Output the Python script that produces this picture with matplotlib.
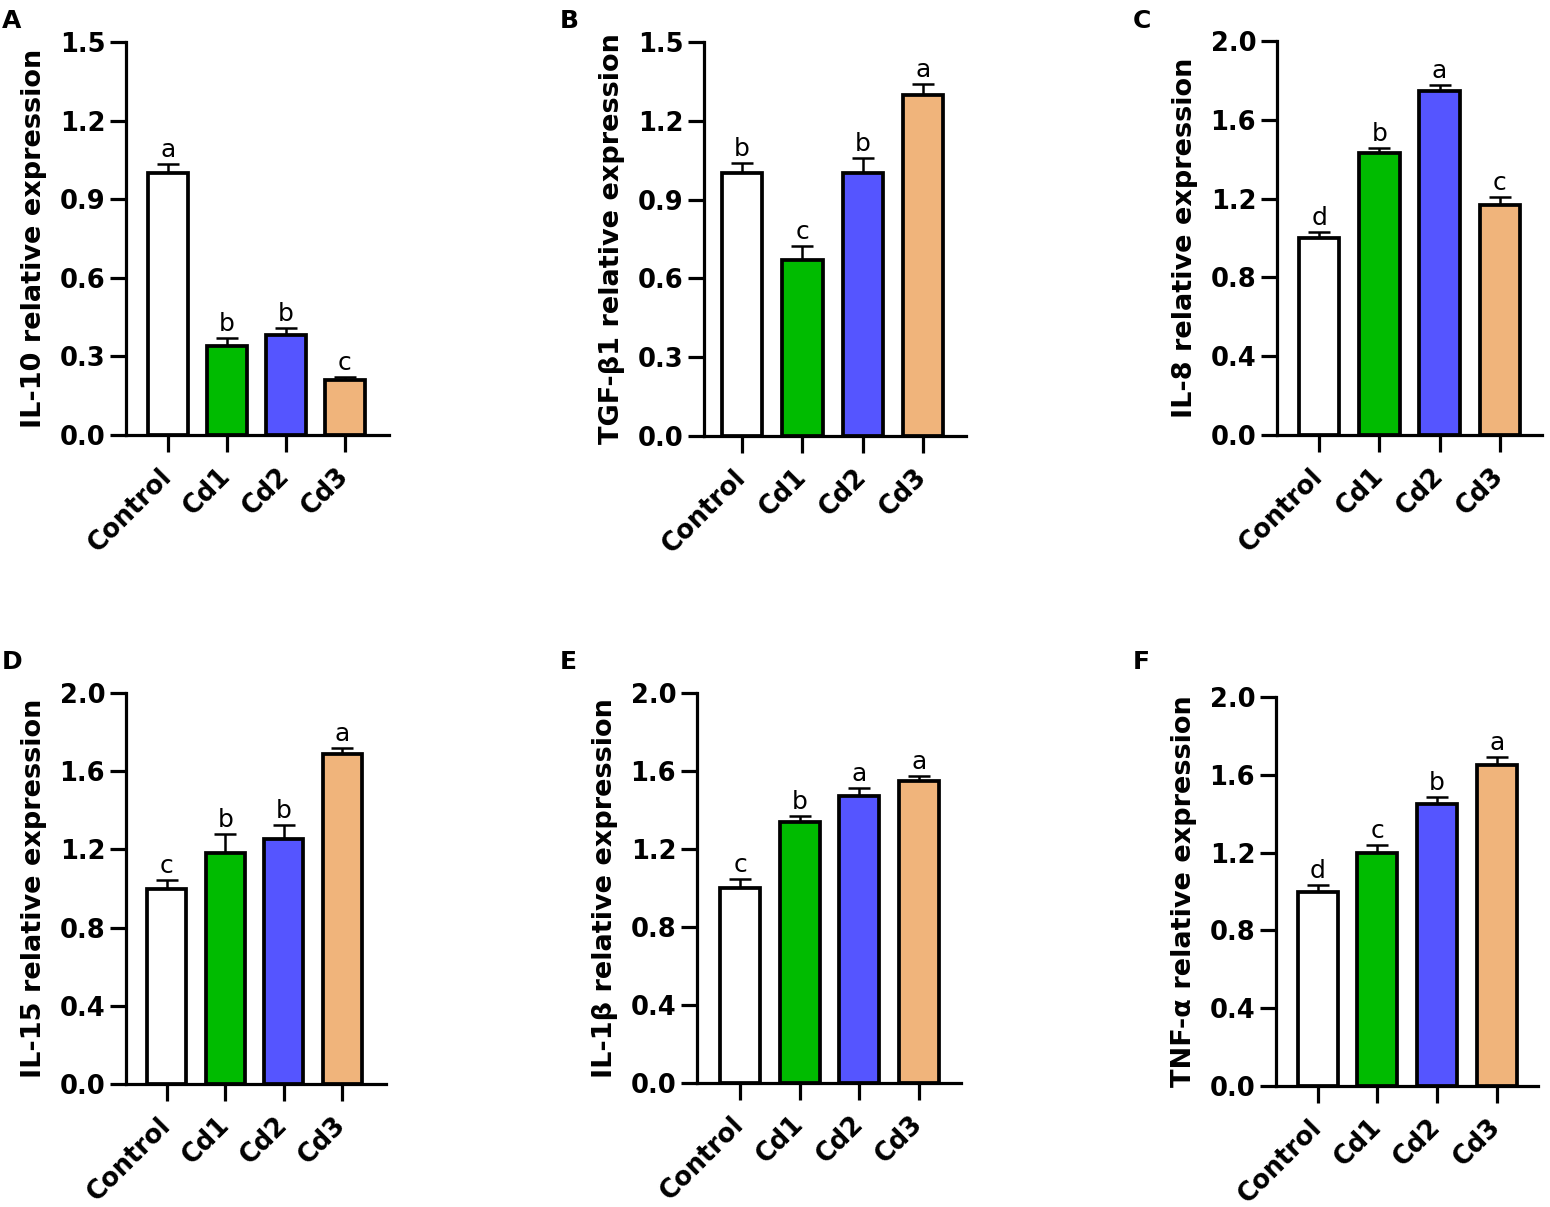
import matplotlib
matplotlib.use("Agg")
import matplotlib.pyplot as plt
import numpy as np

# ---------------- data ----------------
groups = ["Control", "Cd1", "Cd2", "Cd3"]
bar_colors = ["#FFFFFF", "#00BB00", "#5555FF", "#F0B47B"]

il10_mean = [1.00, 0.34, 0.38, 0.21]
il10_err = [0.035, 0.03, 0.03, 0.012]
il10_sig = ["a", "b", "b", "c"]

tgfb1_mean = [1.00, 0.67, 1.00, 1.30]
tgfb1_err = [0.04, 0.055, 0.06, 0.04]
tgfb1_sig = ["b", "c", "b", "a"]

il8_mean = [1.00, 1.43, 1.745, 1.17]
il8_err = [0.03, 0.025, 0.03, 0.04]
il8_sig = ["d", "b", "a", "c"]

il15_mean = [1.00, 1.18, 1.255, 1.69]
il15_err = [0.045, 0.10, 0.07, 0.03]
il15_sig = ["c", "b", "b", "a"]

il1b_mean = [1.00, 1.34, 1.47, 1.55]
il1b_err = [0.045, 0.027, 0.045, 0.025]
il1b_sig = ["c", "b", "a", "a"]

tnfa_mean = [1.00, 1.20, 1.45, 1.65]
tnfa_err = [0.035, 0.04, 0.035, 0.04]
tnfa_sig = ["d", "c", "b", "a"]

ylabels = ["IL-10 relative expression", "TGF-β1 relative expression",
           "IL-8 relative expression", "IL-15 relative expression",
           "IL-1β relative expression", "TNF-α relative expression"]
panel_letters = ["A", "B", "C", "D", "E", "F"]
yticks_15 = [0.0, 0.3, 0.6, 0.9, 1.2, 1.5]
yticks_20 = [0.0, 0.4, 0.8, 1.2, 1.6, 2.0]

panels = [
    (il10_mean, il10_err, il10_sig, yticks_15),
    (tgfb1_mean, tgfb1_err, tgfb1_sig, yticks_15),
    (il8_mean, il8_err, il8_sig, yticks_20),
    (il15_mean, il15_err, il15_sig, yticks_20),
    (il1b_mean, il1b_err, il1b_sig, yticks_20),
    (tnfa_mean, tnfa_err, tnfa_sig, yticks_20),
]

# ---------------- layout (pixels: left, right, top, bottom) ----------------
W, H = 1550, 1207
boxes = [
    (126, 389, 42, 435),
    (704, 966, 42, 436),
    (1277, 1542, 41, 435),
    (126, 386, 693, 1084),
    (697, 961, 693, 1083),
    (1276, 1538, 697, 1086),
]
xlims = [(-0.71, 3.75), (-0.63, 3.71), (-0.70, 3.70),
         (-0.70, 3.75), (-0.72, 3.70), (-0.70, 3.69)]
letter_pos = [(2, 9), (560, 9), (1133, 9), (2, 650), (560, 650), (1133, 650)]

plt.rcParams['font.family'] = ['DejaVu Sans']

fig = plt.figure(figsize=(W / 100, H / 100), dpi=100)

for i, (mean, err, sig, yt) in enumerate(panels):
    l, r, t, b = boxes[i]
    ax = fig.add_axes([l / W, 1 - b / H, (r - l) / W, (b - t) / H])
    x = np.arange(len(groups))
    ax.bar(x, mean, width=0.67, color=bar_colors, edgecolor="black",
           linewidth=2.7, zorder=3)
    ax.errorbar(x, mean, yerr=[np.zeros(len(mean)), err], fmt="none",
                ecolor="black", elinewidth=1.8, capsize=8, capthick=1.8,
                zorder=2)
    for xi, m, e, s in zip(x, mean, err, sig):
        ax.annotate(s, (xi, m + e), xytext=(0, 5), textcoords="offset points",
                    ha="center", va="baseline", fontsize=18, zorder=4)
    ax.set_xlim(*xlims[i])
    ax.set_ylim(yt[0], yt[-1])
    ax.set_yticks(yt)
    ax.set_yticklabels([f"{v:.1f}" for v in yt], fontsize=18.5, fontweight="bold")
    ax.set_xticks(x)
    ax.set_xticklabels(groups, fontsize=18.5, fontweight="bold", rotation=45,
                       ha="right", va="center", rotation_mode="anchor")
    for sp in ["top", "right"]:
        ax.spines[sp].set_visible(False)
    for sp in ["left", "bottom"]:
        ax.spines[sp].set_linewidth(2.3)
    ax.tick_params(axis="y", direction="out", length=11.5, width=2.3, pad=3.5)
    ax.tick_params(axis="x", direction="out", length=12, width=2.3, pad=15)
    ax.set_ylabel(ylabels[i], fontsize=19.5, fontweight="bold")
    ax.yaxis.set_label_coords(-79 / (r - l), 0.5)
    lx, ly = letter_pos[i]
    fig.text(lx / W, 1 - ly / H, panel_letters[i], fontsize=18,
             fontweight="bold", ha="left", va="top")

fig.savefig("out.png", dpi=100, facecolor="white")
